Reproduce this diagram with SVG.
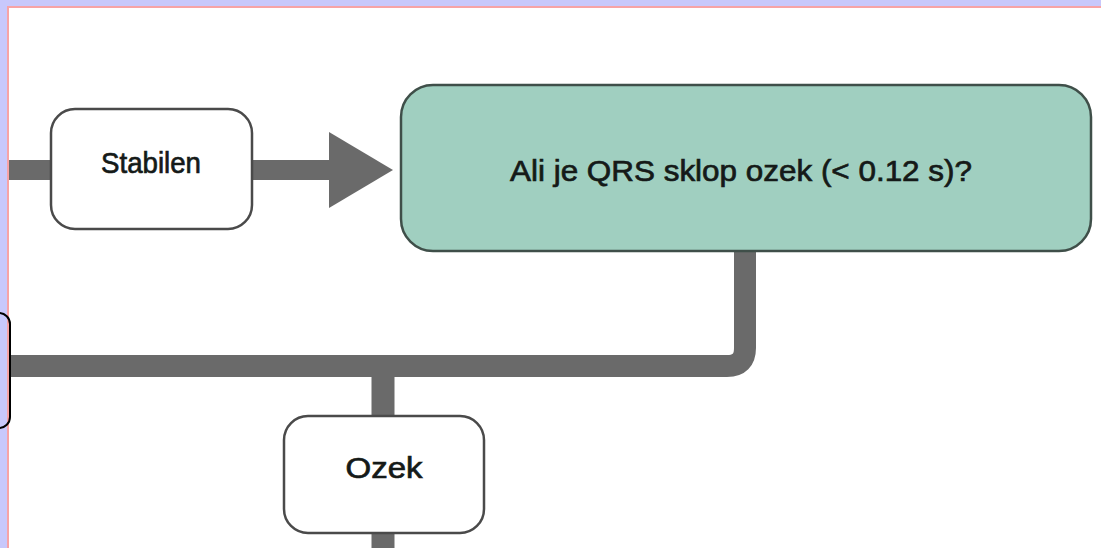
<svg xmlns="http://www.w3.org/2000/svg" width="1101" height="548" viewBox="0 0 1101 548">
  <defs>
    <marker id="arrowHead" markerUnits="userSpaceOnUse" markerWidth="66" markerHeight="78" refX="0" refY="38" orient="auto">
      <polygon points="0,0 64,38 0,76" fill="#6a6a6a"/>
    </marker>
    <style>
      .wire { fill: none; stroke: #6a6a6a; stroke-linejoin: round; }
      .step { fill: #ffffff; stroke: #4a4a4a; stroke-width: 2.5; }
      .question { fill: #a0cfc0; stroke: #3f4f49; stroke-width: 2.5; }
      .label { font-family: "Liberation Sans", Arial, sans-serif; font-size: 30px; fill: #151a18; stroke: #151a18; stroke-width: 0.7; text-anchor: middle; }
    </style>
  </defs>

  <!-- page frame -->
  <rect x="0" y="0" width="1101" height="548" fill="#ffffff"/>
  <rect x="0" y="0" width="1101" height="6" fill="#c8c8fb"/>
  <rect x="0" y="0" width="7" height="548" fill="#c8c8fb"/>
  <rect x="7" y="6" width="1094" height="2" fill="#f7a3a6"/>
  <rect x="7" y="6" width="2" height="542" fill="#f7a3a6"/>

  <!-- connectors -->
  <g id="connectors">
    <line class="wire" x1="9" y1="170" x2="52" y2="170" stroke-width="20"/>
    <line class="wire" x1="252" y1="170" x2="329" y2="170" stroke-width="20" marker-end="url(#arrowHead)"/>
    <path class="wire" d="M745,250 V348 Q745,366 727,366 H11" stroke-width="22"/>
    <line class="wire" x1="383" y1="366" x2="383" y2="416" stroke-width="23"/>
    <line class="wire" x1="383" y1="532" x2="383" y2="548" stroke-width="23"/>
  </g>

  <!-- partially visible node at the left edge -->
  <g id="node-left">
    <rect x="-40" y="313" width="50" height="115" rx="11" ry="11" fill="none" stroke="#000000" stroke-width="2"/>
  </g>

  <g id="node-stabilen">
    <rect class="step" x="51" y="109" width="201" height="120" rx="24" ry="24"/>
    <text class="label" x="151" y="173" textLength="100" lengthAdjust="spacingAndGlyphs">Stabilen</text>
  </g>

  <g id="node-qrs">
    <rect class="question" x="401" y="85" width="690" height="166" rx="32" ry="32"/>
    <text class="label" x="741" y="181" textLength="462" lengthAdjust="spacingAndGlyphs">Ali je QRS sklop ozek (&lt; 0.12 s)?</text>
  </g>

  <g id="node-ozek">
    <rect class="step" x="284" y="416" width="200" height="117" rx="24" ry="24"/>
    <text class="label" x="384" y="478" textLength="77" lengthAdjust="spacingAndGlyphs">Ozek</text>
  </g>
</svg>
